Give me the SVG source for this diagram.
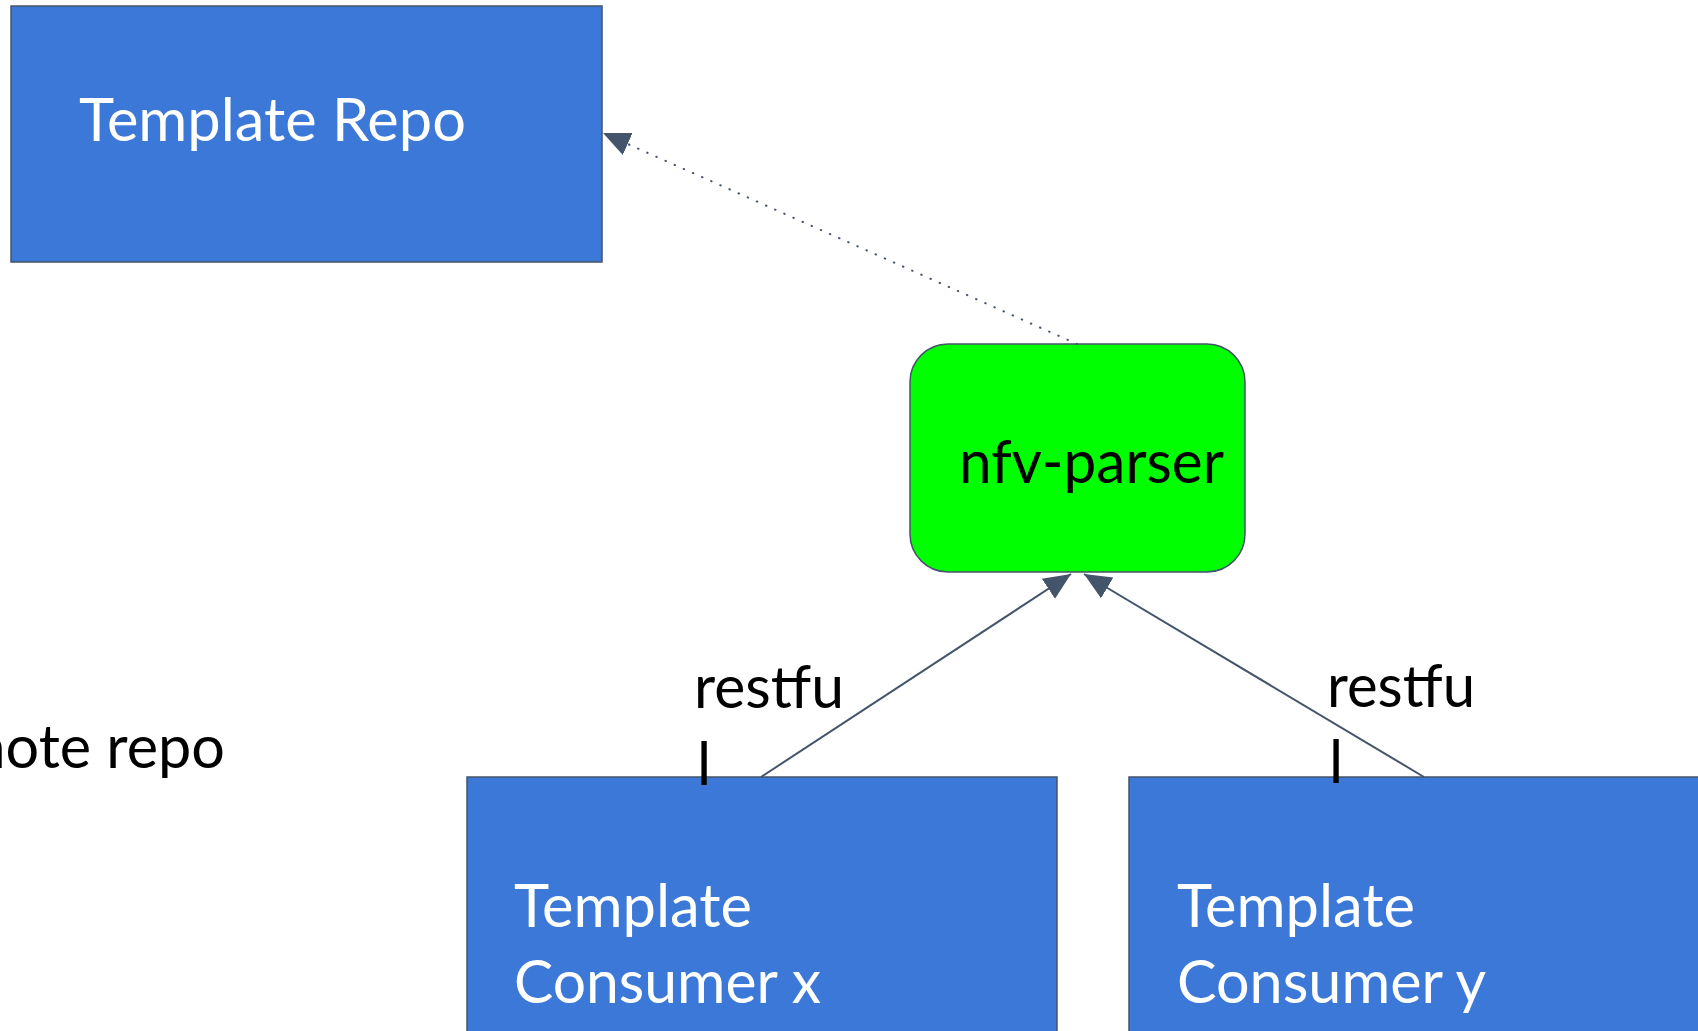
<svg xmlns="http://www.w3.org/2000/svg" width="1698" height="1031" viewBox="0 0 1698 1031">
<style>
.box{fill:#3c78d8;stroke:#44546a;stroke-width:1.5}
.wt{fill:#ffffff;font-family:Lato,"Open Sans",sans-serif;font-size:60px}
.bt{fill:#000000;font-family:Lato,"Open Sans",sans-serif;font-size:60px}
.conn{fill:none;stroke:#44546a;stroke-width:2}
</style>
<defs>
<marker id="ah" markerUnits="userSpaceOnUse" markerWidth="30" markerHeight="30" viewBox="0 0 30 30" refX="27" refY="15" orient="auto">
<path d="M0,3 L27,15 L0,27 Z" fill="#44546a"/>
</marker>
</defs>
<rect width="1698" height="1031" fill="#ffffff"/>
<g id="template-repo">
<rect class="box" x="11" y="6" width="591" height="256"/>
<text class="wt" x="79" y="141" textLength="387" lengthAdjust="spacingAndGlyphs">Template Repo</text>
</g>
<g id="nfv-parser">
<rect x="910" y="344" width="335" height="228" rx="38" ry="38" fill="#00ff00" stroke="#44546a" stroke-width="1.5"/>
<text class="bt" x="959" y="483" textLength="265" lengthAdjust="spacingAndGlyphs">nfv-parser</text>
</g>
<g id="consumer-x">
<rect class="box" x="467" y="777" width="590" height="270"/>
<text class="wt" x="514" y="927" textLength="238" lengthAdjust="spacingAndGlyphs">Template</text>
<text class="wt" x="514" y="1003" textLength="307" lengthAdjust="spacingAndGlyphs">Consumer x</text>
</g>
<g id="consumer-y">
<rect class="box" x="1129" y="777" width="600" height="270"/>
<text class="wt" x="1177" y="927" textLength="238" lengthAdjust="spacingAndGlyphs">Template</text>
<text class="wt" x="1177" y="1003" textLength="309" lengthAdjust="spacingAndGlyphs">Consumer y</text>
</g>
<g id="remote-repo">
<text class="bt" x="-95" y="768" textLength="320" lengthAdjust="spacingAndGlyphs">remote repo</text>
</g>
<g id="connectors">
<line class="conn" x1="1077" y1="344" x2="603" y2="133" stroke-dasharray="0.5 9.5" stroke-linecap="round" stroke-width="2.6" marker-end="url(#ah)"/>
<line class="conn" x1="761" y1="777" x2="1071" y2="574" marker-end="url(#ah)"/>
<line class="conn" x1="1424" y1="777" x2="1084" y2="574" marker-end="url(#ah)"/>
</g>
<g id="labels">
<text class="bt" x="694" y="708" textLength="150" lengthAdjust="spacingAndGlyphs">restfu</text>
<text class="bt" x="697" y="785">l</text>
<text class="bt" x="1327" y="707" textLength="148" lengthAdjust="spacingAndGlyphs">restfu</text>
<text class="bt" x="1329" y="783">l</text>
</g>
</svg>
